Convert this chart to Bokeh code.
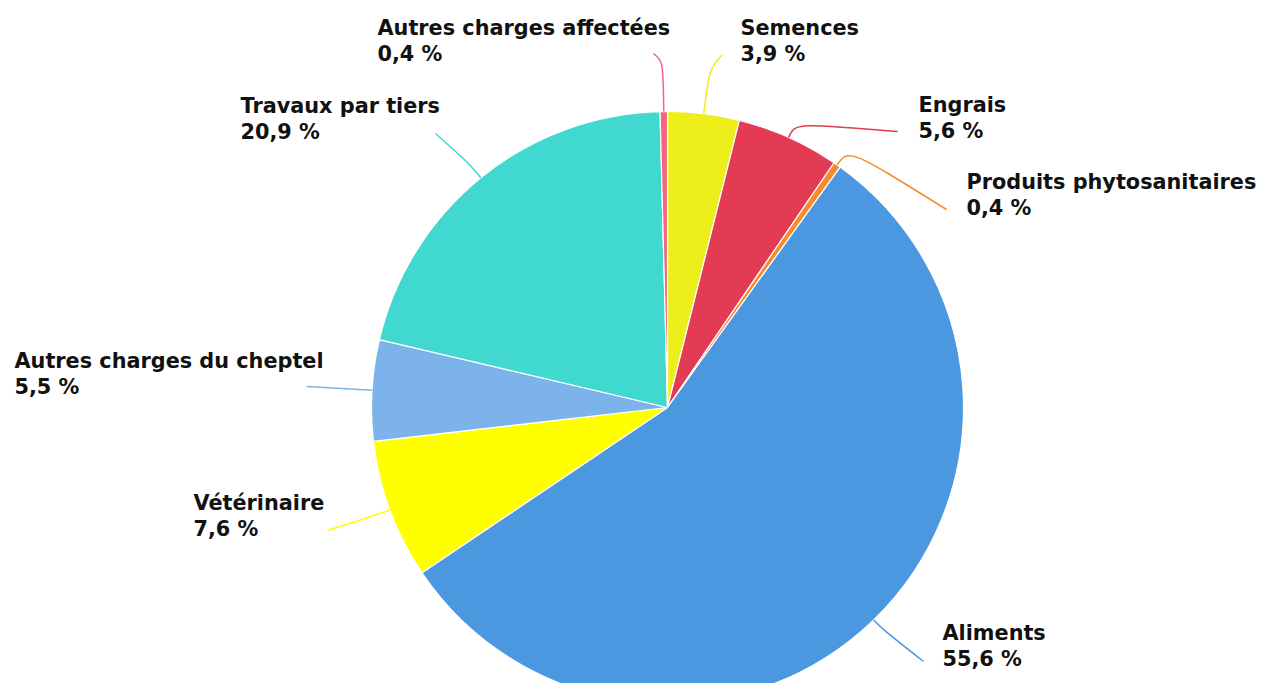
import numpy as np
from bokeh.plotting import figure
from bokeh.models import Range1d
from bokeh.core.properties import value
from bokeh.embed import file_html
from bokeh.resources import INLINE

# ---- data (clockwise from 12 o'clock) ----
categories = ["Semences", "Engrais", "Produits phytosanitaires", "Aliments",
              "Vétérinaire", "Autres charges du cheptel", "Travaux par tiers",
              "Autres charges affectées"]
shares = [3.9, 5.6, 0.4, 55.6, 7.6, 5.5, 20.9, 0.4]
colors = ["#eeee1b", "#e33b54", "#f58b2c", "#4c98e0",
          "#ffff00", "#7cb3ea", "#40d8cf", "#f1657d"]

# ---- layout (picture pixel coordinates) ----
W, H = 1265, 683
CX, CY, R = 667, 407, 296          # pie centre / radius
# label text left x, first-line baseline y, connector end x, end y, radial extension
label_layout = [
    (740, 27, 722, 54, 45),
    (918, 104, 897, 131, 16),
    (966, 181, 946, 209, 20),
    (942, 632, 923, 661, 14),
    (193, 502, 327, 530, 12),
    (14, 360, 306, 386, 10),
    (240, 105, 435, 133, 18),
    (377, 27, 653, 53, 50),
]
LINE_GAP = 26

def px(x):
    return x

def py(y):
    return H - y

p = figure(width=W, height=H, output_backend="svg", toolbar_location=None,
           x_range=Range1d(0, W), y_range=Range1d(0, H),
           x_axis_type=None, y_axis_type=None, min_border=0)
p.grid.visible = False
p.outline_line_color = None
p.background_fill_color = "white"
p.border_fill_color = "white"

vals = np.array(shares, dtype=float)
frac = vals / vals.sum()
cum = np.concatenate([[0], np.cumsum(frac)])
start = np.pi / 2 - 2 * np.pi * cum[:-1]
end = np.pi / 2 - 2 * np.pi * cum[1:]
mid = (start + end) / 2

cx, cy = px(CX), py(CY)
p.wedge(x=cx, y=cy, radius=R, start_angle=start, end_angle=end,
        direction="clock", fill_color=colors, line_color="white", line_width=1.2)

# connectors
x0 = cx + R * np.cos(mid)
y0 = cy + R * np.sin(mid)
ext = np.array([l[4] for l in label_layout], dtype=float)
x1 = cx + (R + ext) * np.cos(mid)
y1 = cy + (R + ext) * np.sin(mid)
ex = np.array([px(l[2]) for l in label_layout], dtype=float)
ey = np.array([py(l[3]) for l in label_layout], dtype=float)
p.bezier(x0=x0, y0=y0, x1=ex, y1=ey, cx0=x1, cy0=y1, cx1=x1, cy1=y1,
         line_color=colors, line_width=1.5)

# labels
pct = [f"{v:.1f} %".replace(".", ",") for v in shares]
tx = [px(l[0]) for l in label_layout]
ty1 = [py(l[1]) for l in label_layout]
ty2 = [py(l[1] + LINE_GAP) for l in label_layout]
common = dict(text_font=value("DejaVu Sans"), text_font_style="bold",
              text_font_size="20.8px", text_color="#111111",
              text_align="left", text_baseline="alphabetic")
p.text(x=tx, y=ty1, text=categories, **common)
p.text(x=tx, y=ty2, text=pct, **common)

open("out.html", "w").write(file_html(p, INLINE))
